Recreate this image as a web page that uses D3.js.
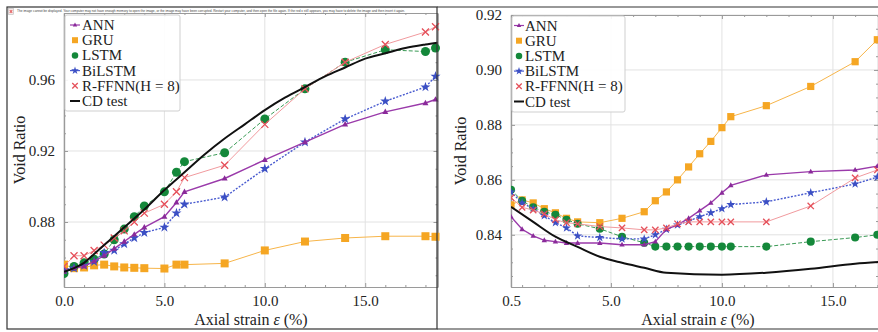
<!DOCTYPE html>
<html><head><meta charset="utf-8">
<script src="https://cdn.jsdelivr.net/npm/d3@7"></script>
<style>
html,body{margin:0;padding:0;background:#fff;}
svg{display:block;}
</style></head>
<body>
<svg id="chart" width="878" height="332"></svg>
<script>
// ---------- DATA ----------
const seriesNames = ["ANN","GRU","LSTM","BiLSTM","R-FFNN(H = 8)","CD test"];

// Left panel
const leftX = [0,0.5,1,1.5,2,2.5,3,3.5,4,5,5.6,6,8,10,12,14,16,18,18.5];
const leftANN    = [0.852,0.854,0.855,0.858,0.861,0.865,0.869,0.873,0.877,0.883,0.891,0.897,0.9045,0.915,0.925,0.935,0.942,0.947,0.949];
const leftGRU    = [0.856,0.854,0.8544,0.8556,0.856,0.855,0.8544,0.8542,0.854,0.8538,0.856,0.856,0.8567,0.864,0.869,0.871,0.872,0.872,0.8717];
const leftLSTM   = [0.851,0.855,0.857,0.859,0.862,0.870,0.876,0.883,0.889,0.897,0.908,0.914,0.919,0.938,0.955,0.970,0.977,0.976,0.978];
const leftBiLSTM = [0.853,0.854,0.8555,0.8577,0.8627,0.864,0.8677,0.871,0.874,0.877,0.885,0.890,0.894,0.910,0.925,0.938,0.948,0.956,0.962];
const leftRFFNN  = [0.855,0.861,0.861,0.864,0.867,0.871,0.875,0.880,0.885,0.890,0.897,0.905,0.912,0.935,0.955,0.970,0.980,0.987,0.990];
const leftCDx    = [0,0.5,1,1.5,2,3,4,5,6,7,8,9,10,11,12,13,14,15,16,17,18,18.6];
const leftCD     = [0.852,0.854,0.857,0.862,0.867,0.877,0.887,0.898,0.908,0.918,0.927,0.935,0.943,0.950,0.956,0.962,0.967,0.972,0.975,0.978,0.980,0.981];
const leftXTicks = [0,5,10,15];
const leftYTicks = [0.88,0.92,0.96];

// Right panel
const rightX = [0.5,1,1.5,2,2.5,3,3.5,4.5,5.5,6.5,7,7.5,8,8.5,9,9.5,10,10.4,12,14,16,17];
const rightGRU    = [0.8509,0.8527,0.8516,0.8495,0.848,0.846,0.8447,0.8444,0.846,0.8484,0.8524,0.8556,0.860,0.8647,0.8695,0.874,0.879,0.883,0.887,0.894,0.903,0.911];
const rightLSTM   = [0.8564,0.8524,0.850,0.8484,0.8473,0.8455,0.844,0.8422,0.8393,0.8371,0.8357,0.8357,0.8357,0.8357,0.8357,0.8357,0.8357,0.8357,0.8357,0.8375,0.839,0.840];
const rightANN    = [0.8466,0.842,0.8396,0.838,0.8375,0.837,0.837,0.837,0.8364,0.8364,0.8375,0.842,0.8436,0.846,0.8488,0.8516,0.8553,0.858,0.8618,0.863,0.8636,0.865];
const rightBiLSTM = [0.8556,0.8516,0.8495,0.847,0.8444,0.8425,0.8396,0.839,0.8385,0.8385,0.840,0.842,0.8436,0.845,0.8466,0.848,0.8495,0.851,0.852,0.8553,0.8585,0.861];
const rightRFFNN  = [0.8535,0.850,0.849,0.8476,0.8455,0.8444,0.844,0.843,0.8425,0.8418,0.8418,0.8425,0.844,0.8447,0.8447,0.8447,0.8447,0.8447,0.8447,0.8505,0.8607,0.8636];
const rightCDx    = [0.5,1.5,2.5,3.5,4.5,5.5,6.5,7.5,10,12,14,16,17.2];
const rightCD     = [0.8502,0.8447,0.8393,0.8356,0.832,0.8298,0.828,0.8262,0.8255,0.8262,0.8276,0.8295,0.8302];
const rightXTicks = [0.5,5,10,15];
const rightYTicks = [0.84,0.86,0.88,0.90,0.92];

const noticeText = "The image cannot be displayed. Your computer may not have enough memory to open the image, or the image may have been corrupted. Restart your computer, and then open the file again. If the red x still appears, you may have to delete the image and then insert it again.";

// ---------- STYLES ----------
const SERIF = "'Liberation Serif', 'DejaVu Serif', 'Times New Roman', serif";
const styles = {
  "ANN":           {color:"#8a2a9a", lw:1.4, dash:null,  marker:"tri",    size:3.0, lineColor:"#9a3aaa"},
  "GRU":           {color:"#f5a623", lw:1.0, dash:null,  marker:"square", size:8,   lineColor:"#f7b54a"},
  "LSTM":          {color:"#14883a", lw:1.0, dash:"4,2", marker:"circle", size:9,   lineColor:"#3a9a55"},
  "BiLSTM":        {color:"#3b4fc4", lw:1.4, dash:"2,1.5", marker:"star", size:6.5, lineColor:"#4a5cd0"},
  "R-FFNN(H = 8)": {color:"#e5505a", lw:1.0, dash:null,  marker:"x",      size:7,   lineColor:"#f19a9e"},
  "CD test":       {color:"#111111", lw:2.0, dash:null,  marker:null,     size:0,   lineColor:"#111111"}
};

const svg = d3.select("#chart");

function drawMarker(g, type, cx, cy, size, color){
  if(type==="square"){
    g.append("rect").attr("x",cx-size/2).attr("y",cy-size/2).attr("width",size).attr("height",size).attr("fill",color);
  } else if(type==="circle"){
    g.append("circle").attr("cx",cx).attr("cy",cy).attr("r",size/2).attr("fill",color);
  } else if(type==="tri"){
    const s=size;
    g.append("path").attr("d",`M${cx},${cy-s*1.1}L${cx+s},${cy+s*0.7}L${cx-s},${cy+s*0.7}Z`).attr("fill",color);
  } else if(type==="star"){
    g.append("path").attr("d",d3.symbol(d3.symbolStar, size*size*0.75)()).attr("transform",`translate(${cx},${cy})`).attr("fill",color);
  } else if(type==="x"){
    const h=size/2;
    g.append("path").attr("d",`M${cx-h},${cy-h}L${cx+h},${cy+h}M${cx-h},${cy+h}L${cx+h},${cy-h}`)
      .attr("stroke",color).attr("stroke-width",1.3).attr("fill","none");
  }
}

function drawPanel(cfg){
  const x = d3.scaleLinear().domain(cfg.xDomain).range(cfg.xRange);
  const y = d3.scaleLinear().domain(cfg.yDomain).range(cfg.yRange);
  const [x0,x1]=cfg.xRange, [y0,y1]=cfg.yRange; // y0 bottom, y1 top
  const g = svg.append("g");

  // grid
  g.append("g").selectAll("line").data(cfg.xTicks).join("line")
    .attr("x1",d=>x(d)).attr("x2",d=>x(d)).attr("y1",y1).attr("y2",y0)
    .attr("stroke","#e2e2e2").attr("stroke-width",1);
  g.append("g").selectAll("line").data(cfg.yTicks).join("line")
    .attr("x1",x0).attr("x2",x1).attr("y1",d=>y(d)).attr("y2",d=>y(d))
    .attr("stroke","#e2e2e2").attr("stroke-width",1);

  // axes with inward ticks
  const axB = d3.axisBottom(x).tickValues(cfg.xTicks).tickFormat(d3.format(".1f")).tickSizeInner(-4).tickSizeOuter(0).tickPadding(8);
  const axT = d3.axisTop(x).tickValues(cfg.xTicks).tickFormat("").tickSizeInner(-4).tickSizeOuter(0);
  const axL = d3.axisLeft(y).tickValues(cfg.yTicks).tickFormat(d3.format(".2f")).tickSizeInner(-4).tickSizeOuter(0).tickPadding(9);
  const axR = d3.axisRight(y).tickValues(cfg.yTicks).tickFormat("").tickSizeInner(-4).tickSizeOuter(0);
  const mB = d3.axisBottom(x).tickValues(cfg.xMinor).tickFormat("").tickSizeInner(-2).tickSizeOuter(0);
  const mT = d3.axisTop(x).tickValues(cfg.xMinor).tickFormat("").tickSizeInner(-2).tickSizeOuter(0);
  const mL = d3.axisLeft(y).tickValues(cfg.yMinor).tickFormat("").tickSizeInner(-2).tickSizeOuter(0);
  const mR = d3.axisRight(y).tickValues(cfg.yMinor).tickFormat("").tickSizeInner(-2).tickSizeOuter(0);
  const axes = [
    [axB,`translate(0,${y0})`],[axT,`translate(0,${y1})`],[axL,`translate(${x0},0)`],[axR,`translate(${x1},0)`],
    [mB,`translate(0,${y0})`],[mT,`translate(0,${y1})`],[mL,`translate(${x0},0)`],[mR,`translate(${x1},0)`]
  ];
  axes.forEach(([a,t])=>{
    const ag=g.append("g").attr("transform",t).call(a).attr("font-family",SERIF).attr("font-size",15);
    ag.select(".domain").attr("stroke","#9a9a9a").attr("stroke-width",1.2);
    ag.selectAll(".tick line").attr("stroke","#9a9a9a");
    ag.selectAll("text").attr("fill","#222");
  });

  // clip
  const cid = "clip"+cfg.id;
  svg.append("defs").append("clipPath").attr("id",cid).append("rect")
    .attr("x",x0).attr("y",y1-6).attr("width",x1-x0+6).attr("height",y0-y1+6);
  const dg = g.append("g").attr("clip-path",`url(#${cid})`);

  const order = ["GRU","LSTM","BiLSTM","ANN","R-FFNN(H = 8)","CD test"];
  order.forEach(name=>{
    const s = cfg.series[name]; const st = styles[name];
    const pts = s.x.map((xv,i)=>[xv,s.y[i]]);
    const line = d3.line().x(d=>x(d[0])).y(d=>y(d[1]));
    if(name==="CD test") line.curve(d3.curveMonotoneX);
    dg.append("path").datum(pts).attr("d",line).attr("fill","none")
      .attr("stroke",st.lineColor).attr("stroke-width",st.lw)
      .attr("stroke-dasharray",st.dash);
    if(st.marker){
      const mg = dg.append("g");
      pts.forEach(p=>drawMarker(mg, st.marker, x(p[0]), y(p[1]), st.size*(cfg.markerScale||1), st.color));
    }
  });

  // legend
  const L = cfg.legend;
  const lg = g.append("g");
  lg.append("rect").attr("x",L.x).attr("y",L.y).attr("width",L.w).attr("height",L.h)
    .attr("fill","#fff").attr("fill-opacity",0.9).attr("stroke","#cfcfcf").attr("stroke-width",1).attr("rx",2);
  seriesNames.forEach((name,i)=>{
    const st=styles[name];
    const cy = L.y+L.first+i*L.step;
    const mx = L.mx;
    if(name==="ANN"||name==="BiLSTM"||name==="CD test"){
      lg.append("line").attr("x1",mx-5).attr("x2",mx+5).attr("y1",cy).attr("y2",cy)
        .attr("stroke",st.lineColor).attr("stroke-width",name==="CD test"?2:1.2);
    }
    if(st.marker){
      const sz = name==="GRU"?6:(name==="LSTM"?6.5:(name==="BiLSTM"?5:(name==="ANN"?2.2:5.5)));
      drawMarker(lg, st.marker, mx, cy, sz, st.color);
    }
    lg.append("text").attr("x",L.tx).attr("y",cy+5).attr("font-size",15).attr("fill","#222")
      .style("font-family",SERIF).text(name);
  });

  // axis labels
  const xl = g.append("text").attr("x",cfg.xLabelX).attr("y",325).attr("text-anchor","middle")
    .attr("font-size",16).attr("fill","#222").style("font-family",SERIF);
  xl.append("tspan").text("Axial strain ");
  xl.append("tspan").attr("font-style","italic").text("ε");
  xl.append("tspan").text(" (%)");
  g.append("text").attr("transform",`translate(${cfg.yLabelX},${(y0+y1)/2}) rotate(-90)`)
    .attr("text-anchor","middle").attr("font-size",16).attr("fill","#222")
    .style("font-family",SERIF).text("Void Ratio");
}

// Left panel
drawPanel({
  id:"L",
  xDomain:[0,18.6], xRange:[64,437.5],
  yDomain:[0.8434,0.9977], yRange:[287,13],
  xTicks:leftXTicks, yTicks:leftYTicks,
  xMinor:d3.range(1,19).filter(v=>v%5!==0),
  yMinor:[0.85,0.86,0.87,0.89,0.90,0.91,0.93,0.94,0.95,0.97,0.98,0.99],
  series:{
    "ANN":{x:leftX,y:leftANN},"GRU":{x:leftX,y:leftGRU},"LSTM":{x:leftX,y:leftLSTM},
    "BiLSTM":{x:leftX,y:leftBiLSTM},"R-FFNN(H = 8)":{x:leftX,y:leftRFFNN},"CD test":{x:leftCDx,y:leftCD}
  },
  legend:{x:65,y:15,w:115,h:96,first:10,step:15.2,mx:75,tx:82},
  xLabelX:251, yLabelX:25
});

// Right panel
drawPanel({
  id:"R",
  xDomain:[0.5,17.03], xRange:[511,878],
  yDomain:[0.821,0.92], yRange:[287,15],
  xTicks:rightXTicks, yTicks:rightYTicks,
  xMinor:d3.range(1,18).filter(v=>v%5!==0),
  yMinor:[0.825,0.83,0.835,0.845,0.85,0.855,0.865,0.87,0.875,0.885,0.89,0.895,0.905,0.91,0.915],
  markerScale:0.9,
  series:{
    "ANN":{x:rightX,y:rightANN},"GRU":{x:rightX,y:rightGRU},"LSTM":{x:rightX,y:rightLSTM},
    "BiLSTM":{x:rightX,y:rightBiLSTM},"R-FFNN(H = 8)":{x:rightX,y:rightRFFNN},"CD test":{x:rightCDx,y:rightCD}
  },
  legend:{x:512,y:16,w:113,h:96,first:9.5,step:15.2,mx:519,tx:525},
  xLabelX:698, yLabelX:466
});

// Outer frame (placeholder box) and notice line
const fr = svg.append("g");
fr.append("rect").attr("x",7).attr("y",7).attr("width",430).attr("height",322)
  .attr("fill","none").attr("stroke","#333").attr("stroke-width",1.2);
fr.append("line").attr("x1",437).attr("x2",878).attr("y1",7).attr("y2",7).attr("stroke","#333").attr("stroke-width",1.2);
fr.append("line").attr("x1",437).attr("x2",878).attr("y1",329).attr("y2",329).attr("stroke","#333").attr("stroke-width",1.2);
// broken-image icon
fr.append("rect").attr("x",8.5).attr("y",8.5).attr("width",5).attr("height",6).attr("fill","#f6e6e6").attr("stroke","#bbb").attr("stroke-width",0.6);
fr.append("path").attr("d","M9.8,10L12.2,13M12.2,10L9.8,13").attr("stroke","#d33").attr("stroke-width",0.8);
fr.append("rect").attr("x",15).attr("y",8).attr("width",392).attr("height",5).attr("fill","#fff");
fr.append("text").attr("x",17).attr("y",12).attr("font-size",3.4).attr("fill","#444")
  .attr("textLength",388).attr("lengthAdjust","spacingAndGlyphs")
  .style("font-family","'Liberation Sans', Arial, sans-serif").text(noticeText);
</script>
</body></html>
